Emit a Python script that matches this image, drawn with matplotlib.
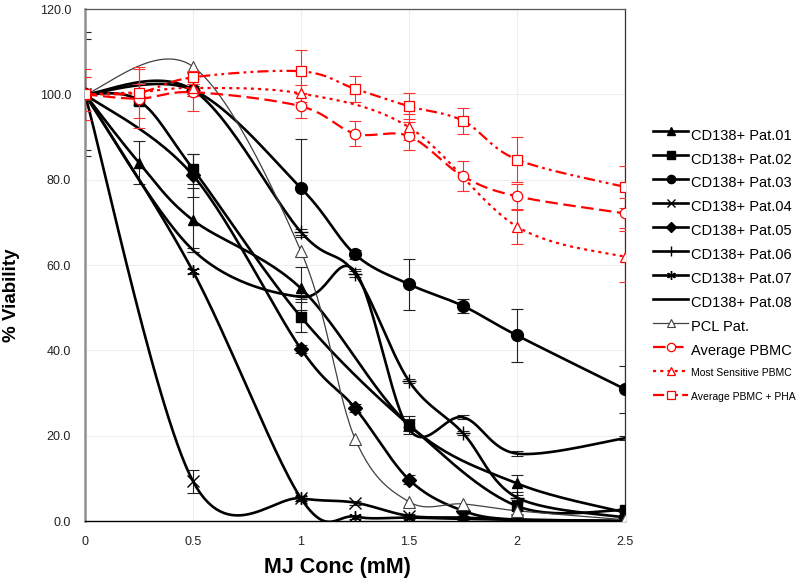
import numpy as np
import matplotlib
matplotlib.use("Agg")
import matplotlib.pyplot as plt
from matplotlib.lines import Line2D
from matplotlib.transforms import Affine2D

plt.rcParams['font.family'] = ['Liberation Sans', 'DejaVu Sans']
plt.rcParams['lines.scale_dashes'] = False

# ---------------- data ----------------
x7 = [0, 0.25, 0.5, 1, 1.5, 2, 2.5]
x8 = [0, 0.5, 1, 1.25, 1.5, 1.75, 2, 2.5]
x9 = [0, 0.25, 0.5, 1, 1.25, 1.5, 1.75, 2, 2.5]

pat01_y = [100, 84, 70.5, 54.5, 22.5, 8.8, 2.0]
pat01_e = [0, 5, 7.5, 5, 2, 2, 0.5]
pat02_y = [100, 98.5, 82.5, 47.8, 22.5, 3.5, 2.6]
pat02_e = [0, 1, 3.5, 3.5, 1.5, 1, 0.5]
pat03_y = [100, 101, 78, 62.5, 55.5, 50.4, 43.5, 30.9]
pat03_e = [14.5, 1, 11.5, 1, 6, 1.7, 6.3, 5.5]
pat04_y = [100, 9.3, 5.3, 4.3, 1.2, 0.8, 0.3, 0.0]
pat04_e = [0, 2.7, 0.5, 0.5, 0.5, 0.3, 0.3, 0]
pat05_y = [100, 81, 40.3, 26.5, 9.7, 2.4, 0.3, 0.0]
pat05_e = [0, 5, 1, 1, 1, 0.5, 0.3, 0]
pat06_y = [100, 101, 67.7, 58, 32.8, 20.6, 5.5, 0.8]
pat06_e = [13, 1.5, 0.7, 0.7, 0.5, 0.5, 0.5, 0.5]
pat07_y = [100, 58.5, 5.3, 1.0, 0.8, 0.5, 0.3, 0.0]
pat07_e = [0, 0.5, 0.5, 0.5, 0.3, 0.3, 0.3, 0]
pat08_y = [100, 63.5, 52.5, 58.5, 21.5, 24.3, 15.8, 19.4]
pat08_e = [0, 0.5, 0.5, 0.6, 0.5, 0.5, 0.5, 0.5]
pcl_y = [100, 106.5, 63.2, 19.3, 4.5, 4.0, 2.4, 0.3]

pbmc_y = [100, 99, 100.5, 97.2, 90.8, 90.2, 80.8, 76.1, 72.1]
pbmc_e = [4, 7, 4.5, 2.8, 3, 3.2, 3.5, 3, 3.5]
sens_y = [100, 100.5, 101.5, 100.2, 92.3, 69, 61.9]
sens_e = [6, 2, 2, 2, 3, 4, 6]
pha_y = [100, 100.4, 104, 105.4, 101.3, 97.2, 93.8, 84.7, 78.3]
pha_e = [4, 6, 1.5, 5, 3, 3, 3, 5.3, 5]

labels = ["CD138+ Pat.01", "CD138+ Pat.02", "CD138+ Pat.03", "CD138+ Pat.04",
          "CD138+ Pat.05", "CD138+ Pat.06", "CD138+ Pat.07", "CD138+ Pat.08",
          "PCL Pat.", "Average PBMC", "Most Sensitive PBMC", "Average PBMC + PHA"]
xticks = [0, 0.5, 1, 1.5, 2, 2.5]
xticklabels = ["0", "0.5", "1", "1.5", "2", "2.5"]
yticks = [0, 20, 40, 60, 80, 100, 120]
yticklabels = ["0.0", "20.0", "40.0", "60.0", "80.0", "100.0", "120.0"]

# ---------------- helpers ----------------
SX, SY = 216.0, 4.27  # pixel per data unit (for smoothing in display-like space)

def smooth(xs, ys, n=30):
    P = np.column_stack([np.asarray(xs, float) * SX, np.asarray(ys, float) * SY])
    out = [P[:1]]
    t = np.linspace(0, 1, n)[1:, None]
    for i in range(len(P) - 1):
        p0 = P[i - 1] if i > 0 else P[i]
        p1, p2 = P[i], P[i + 1]
        p3 = P[i + 2] if i + 2 < len(P) else P[i + 1]
        c1 = p1 + (p2 - p0) / 6.0
        c2 = p2 - (p3 - p1) / 6.0
        B = (1 - t) ** 3 * p1 + 3 * (1 - t) ** 2 * t * c1 + 3 * (1 - t) * t ** 2 * c2 + t ** 3 * p2
        out.append(B)
    Q = np.vstack(out)
    return Q[:, 0] / SX, Q[:, 1] / SY

fig = plt.figure(figsize=(8, 5.79), dpi=100)
ax = fig.add_axes([85 / 800, 1 - 521 / 579, 540 / 800, 512 / 579])

black_series = [
    (x7, pat01_y, pat01_e, dict(marker='^', ms=7.5, mfc='black', mec='black')),
    (x7, pat02_y, pat02_e, dict(marker='s', ms=7.5, mfc='black', mec='black')),
    (x8, pat03_y, pat03_e, dict(marker='o', ms=8.5, mfc='black', mec='black')),
    (x8, pat04_y, pat04_e, dict(marker='x', ms=9, mfc='black', mec='black', mew=1.0)),
    (x8, pat05_y, pat05_e, dict(marker='D', ms=7, mfc='black', mec='black')),
    (x8, pat06_y, pat06_e, dict(marker='+', ms=10, mfc='black', mec='black', mew=1.0)),
    (x8, pat07_y, pat07_e, dict(marker=(6, 2, 0), ms=9, mfc='black', mec='black', mew=1.0)),
    (x8, pat08_y, pat08_e, dict(marker='None')),
]

handles = []
for (xs, ys, es, mk) in black_series:
    ax.errorbar(xs, ys, yerr=es, fmt='none', ecolor='#222222', elinewidth=0.8,
                capsize=4, capthick=0.8, zorder=2)
    sx, sy = smooth(xs, ys)
    ax.plot(sx, sy, color='black', lw=1.9, zorder=3, solid_capstyle='round')
    ax.plot(xs, ys, linestyle='none', zorder=4, **mk)
    handles.append(Line2D([], [], color='black', lw=1.9,
                          marker=mk.get('marker', 'None'),
                          ms=mk.get('ms', 6) * 0.7, mfc='black', mec='black',
                          mew=mk.get('mew', 1.0)))

# PCL
sx, sy = smooth(x8, pcl_y)
ax.plot(sx, sy, color='#404040', lw=0.9, zorder=3)
ax.plot(x8, pcl_y, linestyle='none', marker='^', ms=8, mfc='white', mec='#404040', mew=0.8, zorder=4)
handles.append(Line2D([], [], color='#404040', lw=0.9, marker='^', ms=6,
                      mfc='white', mec='#404040', mew=0.8))

red = '#FF0000'
red_series = [
    (x9, pbmc_y, pbmc_e, 'o', (0, (9, 4))),
    (x7, sens_y, sens_e, '^', (0, (2.2, 3))),
    (x9, pha_y, pha_e, 's', (0, (8, 3, 2, 3, 2, 3))),
]
for (xs, ys, es, m, ls) in red_series:
    ax.errorbar(xs, ys, yerr=es, fmt='none', ecolor='#FF3030', elinewidth=0.8,
                capsize=4, capthick=0.8, zorder=5)
    sx, sy = smooth(xs, ys)
    ax.plot(sx, sy, color=red, lw=1.6, linestyle=ls, zorder=6)
    ax.plot(xs, ys, linestyle='none', marker=m, ms=7.5, mfc='white', mec=red, mew=0.9, zorder=7)
    handles.append(Line2D([], [], color=red, lw=1.6, linestyle=ls, marker=m, ms=6,
                          mfc='white', mec=red, mew=0.9))

# ---------------- axes styling ----------------
ax.set_xlim(0, 2.5)
ax.set_ylim(0, 120)
ax.set_xticks(xticks)
ax.set_xticklabels(xticklabels)
ax.set_yticks(yticks)
ax.set_yticklabels(yticklabels)
ax.tick_params(axis='both', length=0, labelsize=9, colors='#222222')
ax.tick_params(axis='y', pad=10)
ax.tick_params(axis='x', pad=11)
ax.grid(True, color='#eeeeee', lw=0.8, zorder=0)
ax.set_axisbelow(True)
ax.spines['left'].set_color('#909090')
ax.spines['left'].set_linewidth(1.8)
ax.spines['bottom'].set_color('black')
ax.spines['bottom'].set_linewidth(1.0)
ax.spines['top'].set_color('#555555')
ax.spines['top'].set_linewidth(0.9)
ax.spines['right'].set_color('#333333')
ax.spines['right'].set_linewidth(0.9)

fig.text(337 / 800, 1 - 567 / 579, "MJ Conc (mM)", ha='center', va='center',
         fontsize=15.5, fontweight='bold')
fig.text(12 / 800, 1 - 295 / 579, "% Viability", ha='center', va='center',
         rotation=90, fontsize=13.5, fontweight='bold')

# ---------------- legend ----------------
fs = 10.5
fs_px = fs * 100 / 72
leg = fig.legend(handles, labels, loc='upper left',
                 bbox_to_anchor=(653 / 800, 1 - 123 / 579),
                 frameon=False, fontsize=fs, borderpad=0, borderaxespad=0,
                 handlelength=35 / fs_px, handletextpad=3 / fs_px,
                 handleheight=2.15, labelspacing=0)
for i, t in enumerate(leg.get_texts()):
    t.set_color('black')
    if i >= 10:
        t.set_fontsize(7.5)
        t.set_transform(t.get_transform() + Affine2D().translate(0, 3))

fig.savefig("out.png", dpi=100)
